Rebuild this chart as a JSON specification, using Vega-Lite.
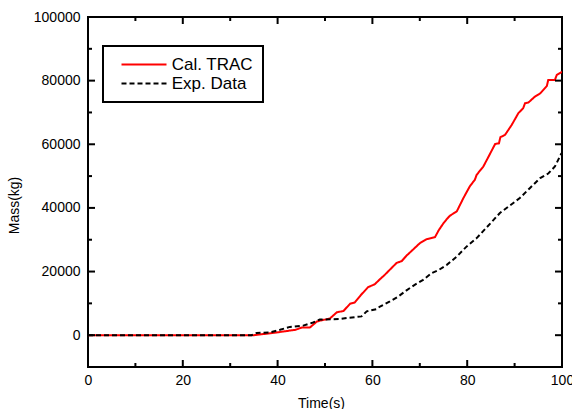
{
  "$schema": "https://vega.github.io/schema/vega-lite/v6.json",
  "autosize": "none",
  "width": 474,
  "height": 350,
  "padding": {"left": 88, "top": 17, "right": 10, "bottom": 42},
  "background": "white",
  "config": {
    "view": {"stroke": "black", "strokeWidth": 2},
    "axis": {"grid": false, "domain": false, "ticks": false, "labelFlush": false, "labelColor": "black", "labelFont": "Liberation Sans", "labelFontSize": 14, "titleFont": "Liberation Sans", "titleFontSize": 14, "titleFontWeight": "normal", "titleColor": "black"},
    "legend": {"orient": "none", "legendX": 15, "legendY": 29, "strokeColor": "black", "strokeWidth": 2, "padding": 10, "symbolType": "M-3,0H3", "symbolSize": 225, "symbolStrokeWidth": 2, "symbolOffset": 22.5, "labelFont": "Liberation Sans", "labelFontSize": 17, "labelColor": "black", "labelOffset": 19.2, "rowPadding": 1}
  },
  "datasets": {
    "curves": [
      {"t": 0, "mass": 0, "series": "Cal. TRAC"},
      {"t": 35, "mass": 0, "series": "Cal. TRAC"},
      {"t": 36, "mass": 200, "series": "Cal. TRAC"},
      {"t": 38, "mass": 500, "series": "Cal. TRAC"},
      {"t": 40.5, "mass": 1000, "series": "Cal. TRAC"},
      {"t": 43.8, "mass": 1700, "series": "Cal. TRAC"},
      {"t": 45.1, "mass": 2400, "series": "Cal. TRAC"},
      {"t": 46.8, "mass": 2400, "series": "Cal. TRAC"},
      {"t": 48.3, "mass": 4300, "series": "Cal. TRAC"},
      {"t": 49, "mass": 4600, "series": "Cal. TRAC"},
      {"t": 51, "mass": 5200, "series": "Cal. TRAC"},
      {"t": 52.5, "mass": 7200, "series": "Cal. TRAC"},
      {"t": 53.9, "mass": 7600, "series": "Cal. TRAC"},
      {"t": 55.3, "mass": 9900, "series": "Cal. TRAC"},
      {"t": 56.3, "mass": 10300, "series": "Cal. TRAC"},
      {"t": 57.5, "mass": 12500, "series": "Cal. TRAC"},
      {"t": 59.1, "mass": 15100, "series": "Cal. TRAC"},
      {"t": 60.5, "mass": 16000, "series": "Cal. TRAC"},
      {"t": 61.6, "mass": 17600, "series": "Cal. TRAC"},
      {"t": 62.5, "mass": 18800, "series": "Cal. TRAC"},
      {"t": 63.7, "mass": 20600, "series": "Cal. TRAC"},
      {"t": 65.1, "mass": 22700, "series": "Cal. TRAC"},
      {"t": 66.2, "mass": 23300, "series": "Cal. TRAC"},
      {"t": 67.2, "mass": 25000, "series": "Cal. TRAC"},
      {"t": 68.5, "mass": 26800, "series": "Cal. TRAC"},
      {"t": 70, "mass": 28900, "series": "Cal. TRAC"},
      {"t": 71.5, "mass": 30200, "series": "Cal. TRAC"},
      {"t": 73.2, "mass": 30800, "series": "Cal. TRAC"},
      {"t": 74, "mass": 33000, "series": "Cal. TRAC"},
      {"t": 75, "mass": 35200, "series": "Cal. TRAC"},
      {"t": 75.7, "mass": 36500, "series": "Cal. TRAC"},
      {"t": 76.4, "mass": 37600, "series": "Cal. TRAC"},
      {"t": 77.8, "mass": 38900, "series": "Cal. TRAC"},
      {"t": 79.2, "mass": 43100, "series": "Cal. TRAC"},
      {"t": 80.6, "mass": 46900, "series": "Cal. TRAC"},
      {"t": 81.6, "mass": 48800, "series": "Cal. TRAC"},
      {"t": 82, "mass": 50400, "series": "Cal. TRAC"},
      {"t": 83.4, "mass": 53000, "series": "Cal. TRAC"},
      {"t": 84.5, "mass": 56100, "series": "Cal. TRAC"},
      {"t": 85.9, "mass": 60100, "series": "Cal. TRAC"},
      {"t": 86.7, "mass": 60300, "series": "Cal. TRAC"},
      {"t": 87, "mass": 62200, "series": "Cal. TRAC"},
      {"t": 88, "mass": 63000, "series": "Cal. TRAC"},
      {"t": 89.4, "mass": 66100, "series": "Cal. TRAC"},
      {"t": 90.8, "mass": 69800, "series": "Cal. TRAC"},
      {"t": 91.8, "mass": 71300, "series": "Cal. TRAC"},
      {"t": 92.2, "mass": 72900, "series": "Cal. TRAC"},
      {"t": 92.9, "mass": 73100, "series": "Cal. TRAC"},
      {"t": 94.3, "mass": 75000, "series": "Cal. TRAC"},
      {"t": 95.4, "mass": 76000, "series": "Cal. TRAC"},
      {"t": 96.8, "mass": 78300, "series": "Cal. TRAC"},
      {"t": 97.1, "mass": 80200, "series": "Cal. TRAC"},
      {"t": 98.5, "mass": 80200, "series": "Cal. TRAC"},
      {"t": 98.9, "mass": 81800, "series": "Cal. TRAC"},
      {"t": 100, "mass": 82800, "series": "Cal. TRAC"},
      {"t": 0, "mass": 0, "series": "Exp. Data"},
      {"t": 34.5, "mass": 0, "series": "Exp. Data"},
      {"t": 35.6, "mass": 700, "series": "Exp. Data"},
      {"t": 37, "mass": 800, "series": "Exp. Data"},
      {"t": 38.4, "mass": 900, "series": "Exp. Data"},
      {"t": 40.5, "mass": 1700, "series": "Exp. Data"},
      {"t": 42.6, "mass": 2600, "series": "Exp. Data"},
      {"t": 45.4, "mass": 3000, "series": "Exp. Data"},
      {"t": 47.5, "mass": 4000, "series": "Exp. Data"},
      {"t": 48.9, "mass": 4900, "series": "Exp. Data"},
      {"t": 53.2, "mass": 5100, "series": "Exp. Data"},
      {"t": 54.6, "mass": 5400, "series": "Exp. Data"},
      {"t": 57.7, "mass": 5900, "series": "Exp. Data"},
      {"t": 58.8, "mass": 7500, "series": "Exp. Data"},
      {"t": 60.9, "mass": 8200, "series": "Exp. Data"},
      {"t": 61.6, "mass": 9000, "series": "Exp. Data"},
      {"t": 63.7, "mass": 10600, "series": "Exp. Data"},
      {"t": 65.5, "mass": 12200, "series": "Exp. Data"},
      {"t": 67.2, "mass": 14100, "series": "Exp. Data"},
      {"t": 69, "mass": 15900, "series": "Exp. Data"},
      {"t": 70.7, "mass": 17400, "series": "Exp. Data"},
      {"t": 72.5, "mass": 19500, "series": "Exp. Data"},
      {"t": 74, "mass": 20500, "series": "Exp. Data"},
      {"t": 75.7, "mass": 22100, "series": "Exp. Data"},
      {"t": 77.8, "mass": 24700, "series": "Exp. Data"},
      {"t": 79.9, "mass": 27900, "series": "Exp. Data"},
      {"t": 82, "mass": 30500, "series": "Exp. Data"},
      {"t": 84.8, "mass": 35000, "series": "Exp. Data"},
      {"t": 86.9, "mass": 38400, "series": "Exp. Data"},
      {"t": 88.7, "mass": 40400, "series": "Exp. Data"},
      {"t": 91.1, "mass": 43100, "series": "Exp. Data"},
      {"t": 93.2, "mass": 46200, "series": "Exp. Data"},
      {"t": 95.4, "mass": 49400, "series": "Exp. Data"},
      {"t": 97.1, "mass": 50800, "series": "Exp. Data"},
      {"t": 98.5, "mass": 53000, "series": "Exp. Data"},
      {"t": 99.9, "mass": 57200, "series": "Exp. Data"}
    ],
    "xticks": [{"v": 0}, {"v": 10}, {"v": 20}, {"v": 30}, {"v": 40}, {"v": 50}, {"v": 60}, {"v": 70}, {"v": 80}, {"v": 90}, {"v": 100}],
    "yticks": [{"v": 0}, {"v": 10000}, {"v": 20000}, {"v": 30000}, {"v": 40000}, {"v": 50000}, {"v": 60000}, {"v": 70000}, {"v": 80000}, {"v": 90000}, {"v": 100000}]
  },
  "resolve": {"axis": {"x": "independent", "y": "independent"}},
  "layer": [
    {
      "data": {"name": "curves"},
      "mark": {"type": "line", "strokeWidth": 2, "clip": true},
      "encoding": {
        "x": {"field": "t", "type": "quantitative", "scale": {"domain": [0, 100], "nice": false, "zero": false},
          "axis": {"orient": "bottom", "values": [0, 20, 40, 60, 80, 100], "labelPadding": 6, "title": "Time(s)", "titleX": 233, "titleY": 36, "titleBaseline": "middle", "titleAlign": "center"}},
        "y": {"field": "mass", "type": "quantitative", "scale": {"domain": [-10000, 100000], "nice": false, "zero": false},
          "axis": {"orient": "left", "values": [0, 20000, 40000, 60000, 80000, 100000], "format": "d", "labelPadding": 8, "title": "Mass(kg)", "titleX": -74, "titleY": 188, "titleBaseline": "middle", "titleAlign": "center", "titleAngle": -90}},
        "color": {"field": "series", "type": "nominal", "title": null, "scale": {"domain": ["Cal. TRAC", "Exp. Data"], "range": ["#ff0000", "#000000"]}},
        "strokeDash": {"field": "series", "type": "nominal", "title": null, "scale": {"domain": ["Cal. TRAC", "Exp. Data"], "range": [[1, 0], [5, 3]]}}
      }
    },
    {
      "data": {"name": "xticks"},
      "mark": {"type": "tick", "orient": "vertical", "color": "black", "opacity": 1, "thickness": 2, "clip": true},
      "encoding": {
        "x": {"field": "v", "type": "quantitative", "axis": null},
        "y": {"datum": -10000, "type": "quantitative", "axis": null},
        "size": {"condition": {"test": "datum.v % 20 === 0", "value": 14}, "value": 8}
      }
    },
    {
      "data": {"name": "xticks"},
      "mark": {"type": "tick", "orient": "vertical", "color": "black", "opacity": 1, "thickness": 2, "clip": true},
      "encoding": {
        "x": {"field": "v", "type": "quantitative", "axis": null},
        "y": {"datum": 100000, "type": "quantitative", "axis": null},
        "size": {"condition": {"test": "datum.v % 20 === 0", "value": 14}, "value": 8}
      }
    },
    {
      "data": {"name": "yticks"},
      "mark": {"type": "tick", "orient": "horizontal", "color": "black", "opacity": 1, "thickness": 2, "clip": true},
      "encoding": {
        "y": {"field": "v", "type": "quantitative", "axis": null},
        "x": {"datum": 0, "type": "quantitative", "axis": null},
        "size": {"condition": {"test": "datum.v % 20000 === 0", "value": 14}, "value": 8}
      }
    },
    {
      "data": {"name": "yticks"},
      "mark": {"type": "tick", "orient": "horizontal", "color": "black", "opacity": 1, "thickness": 2, "clip": true},
      "encoding": {
        "y": {"field": "v", "type": "quantitative", "axis": null},
        "x": {"datum": 100, "type": "quantitative", "axis": null},
        "size": {"condition": {"test": "datum.v % 20000 === 0", "value": 14}, "value": 8}
      }
    }
  ]
}
